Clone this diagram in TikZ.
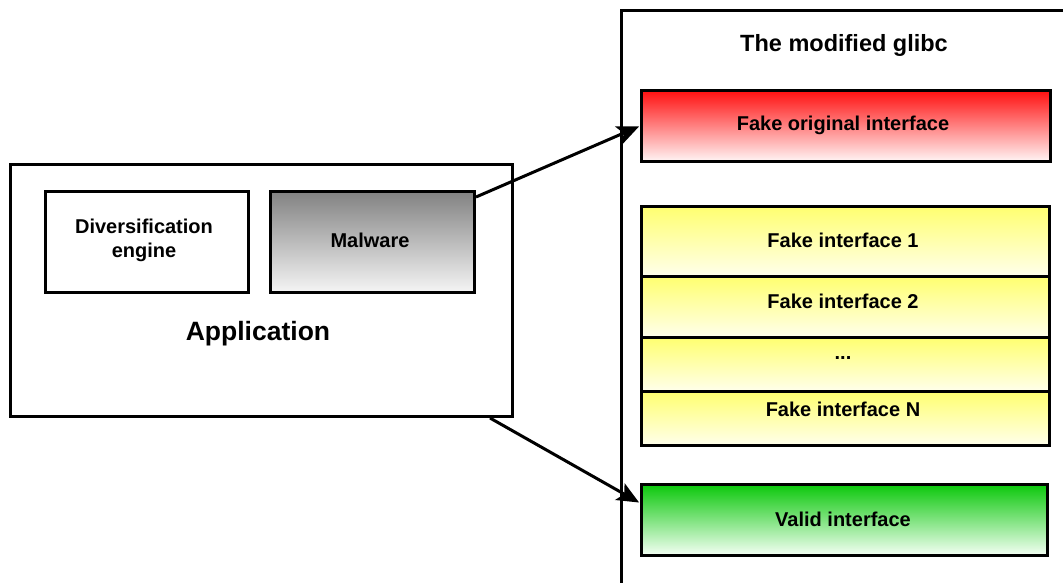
\documentclass[tikz,border=0pt]{standalone}
\usepackage{fontspec}
\setmainfont{Liberation Sans}
\usetikzlibrary{arrows.meta,calc}
\tikzset{
  bx/.style={draw=black, line width=3pt, anchor=north west, inner sep=0pt},
  lbl/.style={font=\bfseries\fontsize{20}{24}\selectfont, inner sep=0pt, anchor=center},
  arr/.style={line width=3pt, -{Stealth[length=22pt,width=19pt,inset=5pt]}, shorten >=1pt},
  redfill/.style={top color={rgb,255:red,255;green,16;blue,16}, bottom color={rgb,255:red,255;green,245;blue,245}},
  yelfill/.style={top color={rgb,255:red,255;green,255;blue,112}, bottom color={rgb,255:red,255;green,255;blue,236}},
  grnfill/.style={top color={rgb,255:red,12;green,200;blue,12}, bottom color={rgb,255:red,245;green,255;blue,245}},
  grayfill/.style={top color={rgb,255:red,130;green,130;blue,130}, bottom color={rgb,255:red,245;green,245;blue,245}},
}
\begin{document}
\begin{tikzpicture}[x=1pt,y=-1pt]
\useasboundingbox (0,0) rectangle (1063,582);
\clip (0,0) rectangle (1063,582);
% glibc container
\node[bx, minimum width=460pt, minimum height=600pt] (glibc) at (620,9) {};
\node[font=\bfseries\fontsize{23.5}{28}\selectfont, inner sep=0pt] (gtitle) at (844,45) {The modified glibc};
% interfaces
\node[bx, redfill, minimum width=409pt, minimum height=71pt] (red) at (640,89) {};
\node[lbl] (redt) at (843,125) {Fake original interface};
\node[bx, yelfill, minimum width=408pt, minimum height=70pt] (y1) at (640,205) {};
\node[lbl] (y1t) at (843,240) {Fake interface 1};
\node[bx, yelfill, minimum width=408pt, minimum height=61pt] (y2) at (640,275) {};
\node[lbl] (y2t) at (843,301) {Fake interface 2};
\node[bx, yelfill, minimum width=408pt, minimum height=54pt] (y3) at (640,336) {};
\node[lbl] (y3t) at (843,358) {...};
\node[bx, yelfill, minimum width=408pt, minimum height=54pt] (y4) at (640,390) {};
\node[lbl] (y4t) at (843,409) {Fake interface N};
\node[bx, grnfill, minimum width=406pt, minimum height=71pt] (grn) at (640,483) {};
\node[lbl] (grnt) at (843,519) {Valid interface};
% application
\node[bx, minimum width=502pt, minimum height=252pt] (app) at (9,163) {};
\node[font=\bfseries\fontsize{26.5}{31}\selectfont, inner sep=0pt] (appt) at (258,334) {Application};
\node[bx, minimum width=203pt, minimum height=101pt] (div) at (44,190) {};
\node[lbl, align=center] (divt) at (144,240) {Diversification\\[0pt]engine};
\node[bx, grayfill, minimum width=204pt, minimum height=101pt] (mal) at (269,190) {};
\node[lbl] (malt) at (370,240) {Malware};
% arrows
\draw[arr] ($(mal.north east)+(0,7)$) -- (red.west);
\draw[arr] ($(app.south east)+(-24,0)$) -- ($(grn.north west)+(0,20)$);
\end{tikzpicture}
\end{document}
